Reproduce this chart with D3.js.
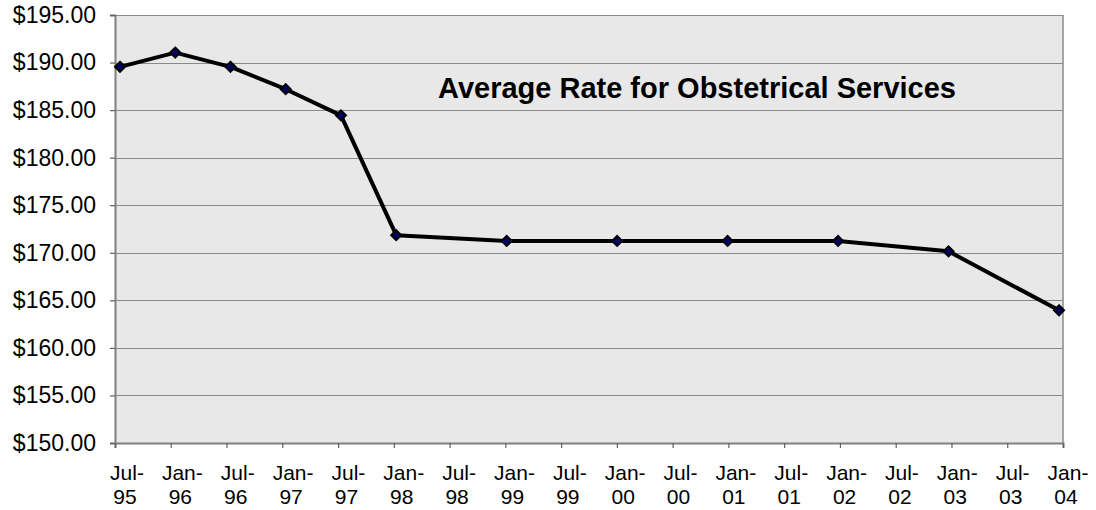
<!DOCTYPE html>
<html>
<head>
<meta charset="utf-8">
<script src="https://cdn.jsdelivr.net/npm/d3@7"></script>
<style>
  body { margin: 0; background: #fff; }
  svg { display: block; font-family: "Liberation Sans", Arial, sans-serif; }
</style>
</head>
<body>
<div id="chart"></div>
<script>
// chart data
const categories = ["Jul-95", "Jan-96", "Jul-96", "Jan-97", "Jul-97", "Jan-98", "Jul-98", "Jan-99", "Jul-99",
    "Jan-00", "Jul-00", "Jan-01", "Jul-01", "Jan-02", "Jul-02", "Jan-03", "Jul-03", "Jan-04"];
// categories that carry a value
const pointCategories = ["Jul-95", "Jan-96", "Jul-96", "Jan-97", "Jul-97", "Jan-98", "Jan-99",
    "Jan-00", "Jan-01", "Jan-02", "Jan-03", "Jan-04"];
const rates = [189.55, 191.05, 189.55, 187.2, 184.45, 171.85, 171.25, 171.25, 171.25, 171.25, 170.15, 163.95];
const yTicks = [150, 155, 160, 165, 170, 175, 180, 185, 190, 195];
const chartTitle = "Average Rate for Obstetrical Services";

const width = 1096, height = 510;
const plot = {left: 115, right: 1063, top: 15, bottom: 443};

const svg = d3.select("#chart").append("svg")
    .attr("width", width)
    .attr("height", height);

// scales
const xScale = d3.scalePoint().domain(categories).range([120, 1059]);
const yScale = d3.scaleLinear().domain([150, 195]).range([plot.bottom, plot.top]);

// plot background
svg.append("rect")
    .attr("x", plot.left)
    .attr("y", plot.top)
    .attr("width", plot.right - plot.left)
    .attr("height", plot.bottom - plot.top)
    .attr("fill", "#e8e8e8");

// gridlines
svg.append("g").selectAll("line").data(yTicks.slice(1)).enter()
    .append("line")
        .attr("x1", plot.left)
        .attr("x2", plot.right)
        .attr("y1", d => Math.round(yScale(d)) + 0.5)
        .attr("y2", d => Math.round(yScale(d)) + 0.5)
        .attr("stroke", "#8a8a8a")
        .attr("stroke-width", 1.2);

// plot border (right side)
svg.append("line")
    .attr("x1", plot.right).attr("x2", plot.right)
    .attr("y1", plot.top).attr("y2", plot.bottom)
    .attr("stroke", "#8a8a8a").attr("stroke-width", 1.5);

// y axis
const yAxis = d3.axisLeft(yScale)
    .tickValues(yTicks)
    .tickSize(5)
    .tickPadding(5)
    .tickFormat(d => "$" + d3.format(".2f")(d));

const yG = svg.append("g")
    .attr("transform", "translate(" + plot.left + ",0)")
    .call(yAxis);
yG.select(".domain").attr("stroke", "#808080").attr("stroke-width", 2);
yG.selectAll(".tick line").attr("stroke", "#606060").attr("stroke-width", 1.2);
yG.selectAll(".tick text")
    .attr("x", -19)
    .attr("fill", "#000")
    .style("font-size", "23px")
    .style("font-family", "'Liberation Sans', Arial, sans-serif");

// x axis
const xTickScale = d3.scalePoint().domain(categories).range([plot.left, plot.right]);
const xAxis = d3.axisBottom(xTickScale).tickSize(5).tickFormat("");
const xG = svg.append("g")
    .attr("transform", "translate(0," + plot.bottom + ")")
    .call(xAxis);
xG.select(".domain").attr("stroke", "#808080").attr("stroke-width", 2);
xG.selectAll(".tick line").attr("stroke", "#606060").attr("stroke-width", 1.2);

// two-line tick labels, one text per line
const labelScale = d3.scalePoint().domain(categories).range([125, 1066]);
const labelG = svg.append("g")
    .style("font-size", "21px")
    .attr("fill", "#000")
    .attr("text-anchor", "middle");

labelG.selectAll("text.month").data(categories).enter()
    .append("text")
        .attr("class", "month")
        .attr("x", d => labelScale(d) + 2)
        .attr("y", 480)
        .text(d => d.split("-")[0] + "-");

labelG.selectAll("text.year").data(categories).enter()
    .append("text")
        .attr("class", "year")
        .attr("x", d => labelScale(d))
        .attr("y", 504)
        .text(d => d.split("-")[1]);

// series line
const pts = pointCategories.map((c, i) => [c, rates[i]]);
const line = d3.line()
    .x(d => xScale(d[0]))
    .y(d => yScale(d[1]));

svg.append("path")
    .datum(pts)
    .attr("d", line)
    .attr("fill", "none")
    .attr("stroke", "#000")
    .attr("stroke-width", 4)
    .attr("stroke-linejoin", "round");

// diamond markers
svg.append("g").selectAll("path").data(pts).enter()
    .append("path")
        .attr("d", d3.symbol().type(d3.symbolDiamond2).size(64))
        .attr("transform", d => "translate(" + xScale(d[0]) + "," + yScale(d[1]) + ")")
        .attr("fill", "#000066")
        .attr("stroke", "#000")
        .attr("stroke-width", 2);

// title inside the plot
svg.append("text")
    .attr("x", 697)
    .attr("y", 98)
    .attr("text-anchor", "middle")
    .style("font-size", "29px")
    .style("font-weight", "bold")
    .attr("fill", "#000")
    .text(chartTitle);
</script>
</body>
</html>
